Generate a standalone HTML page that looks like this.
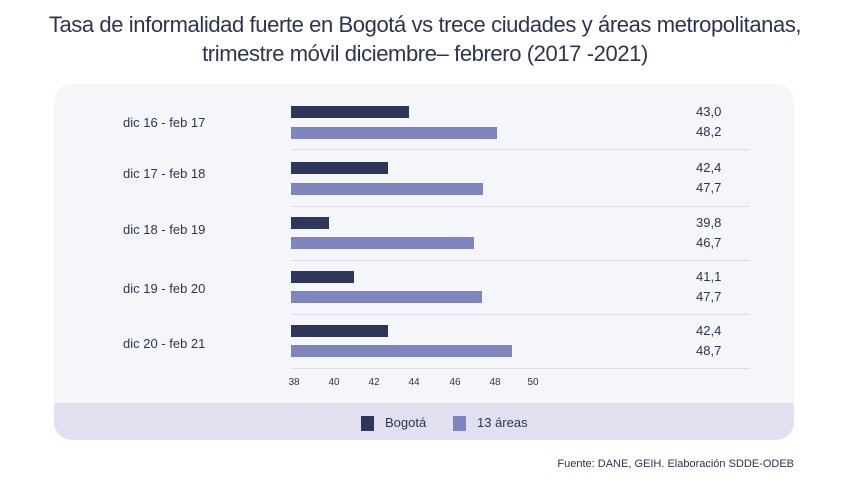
<!DOCTYPE html>
<html><head><meta charset="utf-8"><style>
body{margin:0;width:850px;height:488px;background:#fff;font-family:"Liberation Sans",sans-serif;position:relative;overflow:hidden;color:#2e3352}
.t{position:absolute;left:0;width:850px;text-align:center;font-size:22px;line-height:29px;top:10px;color:#2e3352;letter-spacing:-0.4px}
.card{position:absolute;left:54px;top:84px;width:740px;height:356px;background:#f5f6fa;border-radius:18px;overflow:hidden}
.leg{position:absolute;left:0;top:319px;width:740px;height:37px;background:#e0e0f0}
.a{position:absolute;height:12px}
.b{background:#2e3659}.c{background:#7f86bf}
.lab{position:absolute;font-size:13px;color:#2e3352}
.sep{position:absolute;left:291px;width:459px;height:1px;background:#dcdde6}
.tk{position:absolute;top:377px;font-size:10px;width:20px;text-align:center;color:#2e3352}
</style></head><body>
<div class="t">Tasa de informalidad fuerte en Bogotá vs trece ciudades y áreas metropolitanas,<br>trimestre móvil diciembre– febrero (2017 -2021)</div>
<div class="card"><div class="leg"></div></div>

<div class="lab" style="left:123px;top:115px">dic 16 - feb 17</div>
<div class="lab" style="left:123px;top:166px">dic 17 - feb 18</div>
<div class="lab" style="left:123px;top:222px">dic 18 - feb 19</div>
<div class="lab" style="left:123px;top:281px">dic 19 - feb 20</div>
<div class="lab" style="left:123px;top:336px">dic 20 - feb 21</div>

<div class="a b" style="left:291px;top:106px;width:118px"></div>
<div class="a c" style="left:291px;top:127px;width:206px"></div>
<div class="a b" style="left:291px;top:162px;width:97px"></div>
<div class="a c" style="left:291px;top:183px;width:192px"></div>
<div class="a b" style="left:291px;top:217px;width:38px"></div>
<div class="a c" style="left:291px;top:237px;width:183px"></div>
<div class="a b" style="left:291px;top:271px;width:63px"></div>
<div class="a c" style="left:291px;top:291px;width:191px"></div>
<div class="a b" style="left:291px;top:325px;width:97px"></div>
<div class="a c" style="left:291px;top:345px;width:221px"></div>

<div class="sep" style="top:149px"></div>
<div class="sep" style="top:206px"></div>
<div class="sep" style="top:260px"></div>
<div class="sep" style="top:314px"></div>
<div class="sep" style="top:368px"></div>

<div class="lab" style="left:696px;top:104px">43,0</div>
<div class="lab" style="left:696px;top:124px">48,2</div>
<div class="lab" style="left:696px;top:160px">42,4</div>
<div class="lab" style="left:696px;top:180px">47,7</div>
<div class="lab" style="left:696px;top:215px">39,8</div>
<div class="lab" style="left:696px;top:235px">46,7</div>
<div class="lab" style="left:696px;top:269px">41,1</div>
<div class="lab" style="left:696px;top:289px">47,7</div>
<div class="lab" style="left:696px;top:323px">42,4</div>
<div class="lab" style="left:696px;top:343px">48,7</div>

<div class="tk" style="left:284px">38</div>
<div class="tk" style="left:324px">40</div>
<div class="tk" style="left:364px">42</div>
<div class="tk" style="left:404px">44</div>
<div class="tk" style="left:445px">46</div>
<div class="tk" style="left:485px">48</div>
<div class="tk" style="left:523px">50</div>

<div style="position:absolute;left:361px;top:416px;width:13px;height:15px;background:#2e3659"></div>
<div class="lab" style="left:385px;top:415px">Bogotá</div>
<div style="position:absolute;left:453px;top:416px;width:13px;height:15px;background:#7f86bf"></div>
<div class="lab" style="left:477px;top:415px">13 áreas</div>

<div style="position:absolute;right:56px;top:458px;font-size:11px;color:#2e3352">Fuente: DANE, GEIH. Elaboración SDDE-ODEB</div>
</body></html>
